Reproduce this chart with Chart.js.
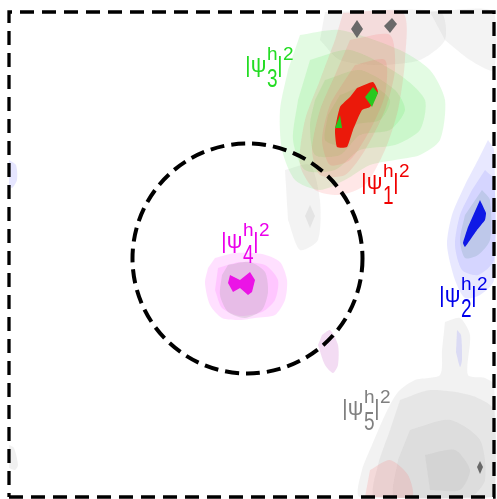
<!DOCTYPE html>
<html>
<head>
<meta charset="utf-8">
<script src="https://cdn.jsdelivr.net/npm/chart.js@4/dist/chart.umd.min.js"></script>
<style>
  html, body { margin: 0; padding: 0; background: #ffffff; }
  #wrap { width: 497px; height: 499px; }
</style>
</head>
<body>
<div id="wrap"><canvas id="c"></canvas></div>
<script>
// Hole probability densities |psi_n^h|^2 in the dot plane.
// All coordinates are in grid units; the simulation box spans 0..485 on both axes.

const frame = [[0, 0], [485, 0], [485, 485], [0, 485], [0, 0]];
const ringCenter = [238.5, 238.5];
const ringRadius = 115;

// |psi_1|^2 (red): nested contour levels, outer to inner
const psi1Levels = [
  [[334,484],[394,484],[396,437],[389,387],[376,347],[356,312],[331,302],[306,307],[291,332],[296,377],[311,417],[326,457]],
  [[341,457],[381,462],[386,427],[376,387],[356,347],[336,322],[311,322],[303,347],[311,387],[326,422]],
  [[346,432],[376,437],[376,402],[361,367],[341,337],[321,332],[313,357],[321,392],[336,417]]
];
const psi1Core = [[348,409],[364,415],[369,405],[361,390],[353,387],[344,367],[338,350],[328,350],[326,367],[331,390],[341,400]];

// |psi_2|^2 (blue)
const psi2Levels = [
  [[479,357],[485,347],[485,217],[471,202],[456,199],[446,217],[438,252],[443,282],[456,312],[469,337]],
  [[476,327],[485,317],[485,237],[469,222],[453,227],[446,252],[451,282],[463,307]]
];
const psi2Ring = [[473,307],[481,297],[481,257],[469,242],[456,239],[451,257],[456,282]];
const psi2Core = [[471,297],[477,284],[476,277],[468,267],[456,250],[454,254],[459,270]];
const psi2Side = [
  [[448,167],[452,162],[453,137],[451,130],[447,145]],
  [[0,337],[7,332],[8,317],[3,309],[0,312]]
];

// |psi_3|^2 (green)
const psi3Levels = [
  [[291,462],[331,467],[391,447],[421,427],[436,397],[431,357],[411,342],[386,337],[361,332],[336,317],[311,307],[286,317],[273,347],[271,387],[279,427]],
  [[301,437],[341,447],[391,422],[416,397],[411,367],[386,352],[351,347],[326,327],[296,327],[284,357],[289,397]],
  [[316,417],[351,427],[386,407],[396,387],[381,367],[351,362],[331,342],[306,342],[301,372],[306,397]],
  [[331,402],[361,412],[381,397],[371,377],[346,372],[331,352],[316,357],[319,382]]
];
const psi3Cores = [
  [[364,410],[369,404],[363,390],[356,400]],
  [[331,382],[333,369],[326,369]]
];

// |psi_4|^2 (magenta)
const psi4Levels = [
  [[206,239],[226,244],[253,243],[271,235],[278,217],[276,197],[266,182],[246,179],[231,177],[213,179],[201,192],[196,214],[199,229]],
  [[209,229],[231,235],[256,232],[269,217],[266,197],[253,185],[231,181],[213,189],[206,207]]
];
const psi4Inner = [[219,232],[241,235],[256,225],[259,205],[253,187],[236,179],[219,185],[211,202],[213,222]];
const psi4Core = [[221,222],[231,217],[241,225],[246,217],[243,205],[239,202],[231,209],[224,205],[219,214]];
const psi4Side = [[313,162],[321,167],[329,152],[329,132],[324,124],[316,132],[309,152]];

// |psi_5|^2 (grey)
const psi5Levels = [
  [[436,175],[451,179],[461,162],[459,122],[476,119],[485,112],[485,0],[351,0],[353,27],[363,52],[376,82],[389,105],[406,117],[431,122],[433,147]],
  [[391,97],[421,107],[461,102],[485,87],[485,0],[366,0],[369,32],[381,67]],
  [[401,67],[441,77],[471,57],[476,17],[461,0],[386,0],[389,37]],
  [[416,42],[446,47],[461,27],[451,7],[421,7]]
];
const psi5Faint = [
  [[316,485],[431,485],[436,457],[411,437],[371,432],[331,437],[311,457]],
  [[421,485],[485,485],[485,427],[461,437],[436,457]],
  [[276,327],[301,332],[311,297],[309,257],[291,247],[279,277]],
  [[301,292],[306,281],[301,269],[296,281]],
  [[0,52],[5,49],[9,32],[6,27],[0,29]]
];
const psi5Peaks = [
  [[348,477],[354,468],[348,459],[342,468]],
  [[383,479],[388,473],[381,464],[375,471]],
  [[471,36],[474,30],[471,23],[468,30]]
];
const redTail = [[361,27],[381,37],[399,22],[403,0],[356,0]];

// label anchors (left edge / top of the opening bar) and state numbers
const stateNumbers = ['1', '2', '3', '4', '5'];
const labelAnchors = [[354,324],[432,211],[238,441],[214,265],[335,98]];
const labelColours = ['rgb(240,0,0)', 'rgb(0,0,235)', 'rgb(35,220,35)', 'rgb(235,0,235)', 'rgb(128,128,128)'];

// ---- build datasets in drawing order (first = bottom) ----
const layers = [];
function addPolygon(points, colour, tension) {
  layers.push({
    type: 'line',
    data: points.map(p => ({ x: p[0], y: p[1] })),
    showLine: true,
    fill: 'shape',
    backgroundColor: colour,
    borderColor: 'rgba(0,0,0,0)',
    borderWidth: 0,
    pointRadius: 0,
    tension: tension === undefined ? 0.25 : tension
  });
}

psi5Faint.slice(0, 3).forEach(p => addPolygon(p, 'rgba(150,150,150,0.11)'));
addPolygon(psi5Faint[3], 'rgba(150,150,150,0.16)', 0);
addPolygon(psi5Faint[4], 'rgba(150,150,150,0.14)');
psi5Levels.forEach(p => addPolygon(p, 'rgba(150,150,150,0.12)'));
addPolygon(redTail, 'rgba(255,80,80,0.15)');
addPolygon(psi5Peaks[2], 'rgb(105,105,105)', 0);

psi2Levels.forEach(p => addPolygon(p, 'rgba(90,90,255,0.14)'));
psi2Side.forEach(p => addPolygon(p, 'rgba(90,90,255,0.15)'));
addPolygon(psi2Ring, 'rgba(120,160,170,0.25)');
addPolygon(psi2Core, 'rgb(15,25,230)', 0.1);

psi4Levels.forEach(p => addPolygon(p, 'rgba(255,90,255,0.19)'));
addPolygon(psi4Side, 'rgba(210,120,210,0.26)');
addPolygon(psi4Inner, 'rgba(160,160,160,0.25)');
addPolygon(psi4Core, 'rgb(235,20,230)', 0);

psi3Levels.forEach(p => addPolygon(p, 'rgba(70,230,70,0.15)'));
psi1Levels.forEach(p => addPolygon(p, 'rgba(255,70,70,0.13)'));
addPolygon(psi1Core, 'rgb(235,25,10)', 0.15);
psi3Cores.forEach(p => addPolygon(p, 'rgb(40,200,30)', 0));
addPolygon(psi5Peaks[0], 'rgb(105,105,105)', 0);
addPolygon(psi5Peaks[1], 'rgb(105,105,105)', 0);

// dashed simulation box on top
layers.push({
  type: 'line',
  data: frame.map(p => ({ x: p[0], y: p[1] })),
  showLine: true,
  fill: false,
  borderColor: '#000000',
  borderWidth: 3.3,
  borderDash: [14, 8],
  borderCapStyle: 'butt',
  pointRadius: 0,
  tension: 0
});
layers.forEach((d, i) => { d.order = layers.length - i; });

// dashed ring marking the dot boundary
const ringPlugin = {
  id: 'dotRing',
  afterDatasetsDraw(chart) {
    const { ctx, scales: { x, y } } = chart;
    const cx = x.getPixelForValue(ringCenter[0]);
    const cy = y.getPixelForValue(ringCenter[1]);
    const rx = Math.abs(x.getPixelForValue(ringCenter[0] + ringRadius) - cx);
    const ry = Math.abs(y.getPixelForValue(ringCenter[1] + ringRadius) - cy);
    ctx.save();
    ctx.beginPath();
    ctx.ellipse(cx, cy, rx, ry, 0, 0, Math.PI * 2);
    ctx.setLineDash([14, 7]);
    ctx.lineWidth = 4;
    ctx.strokeStyle = '#000000';
    ctx.stroke();
    ctx.restore();
  }
};

// |psi_n^h|^2 labels
const labelPlugin = {
  id: 'stateLabels',
  afterDatasetsDraw(chart) {
    const { ctx, scales: { x, y } } = chart;
    ctx.save();
    ctx.textAlign = 'left';
    ctx.textBaseline = 'alphabetic';
    stateNumbers.forEach((n, i) => {
      const L = x.getPixelForValue(labelAnchors[i][0]);
      const T = y.getPixelForValue(labelAnchors[i][1]);
      ctx.fillStyle = labelColours[i];
      ctx.font = '22px "Liberation Sans", Arial, sans-serif';
      ctx.fillText('|\u03c8', L - 2, T + 16);
      ctx.fillText('|', L + 30, T + 16);
      ctx.font = '19px "Liberation Sans", Arial, sans-serif';
      ctx.fillText('h', L + 20, T + 4);
      ctx.fillText('2', L + 36, T + 4);
      ctx.save();
      ctx.translate(L + 20, T + 31);
      ctx.scale(1, 1.35);
      ctx.font = '19px "Liberation Sans", Arial, sans-serif';
      ctx.fillText(n, 0, 0);
      ctx.restore();
    });
    ctx.restore();
  }
};

new Chart(document.getElementById('c'), {
  type: 'scatter',
  data: { datasets: layers },
  options: {
    responsive: true,
    maintainAspectRatio: false,
    animation: false,
    events: [],
    layout: { padding: 0 },
    scales: {
      x: { type: 'linear', min: -9, max: 488, display: false },
      y: { type: 'linear', min: -2, max: 497, display: false }
    },
    plugins: {
      legend: { display: false },
      tooltip: { enabled: false }
    }
  },
  plugins: [ringPlugin, labelPlugin]
});
</script>
</body>
</html>
